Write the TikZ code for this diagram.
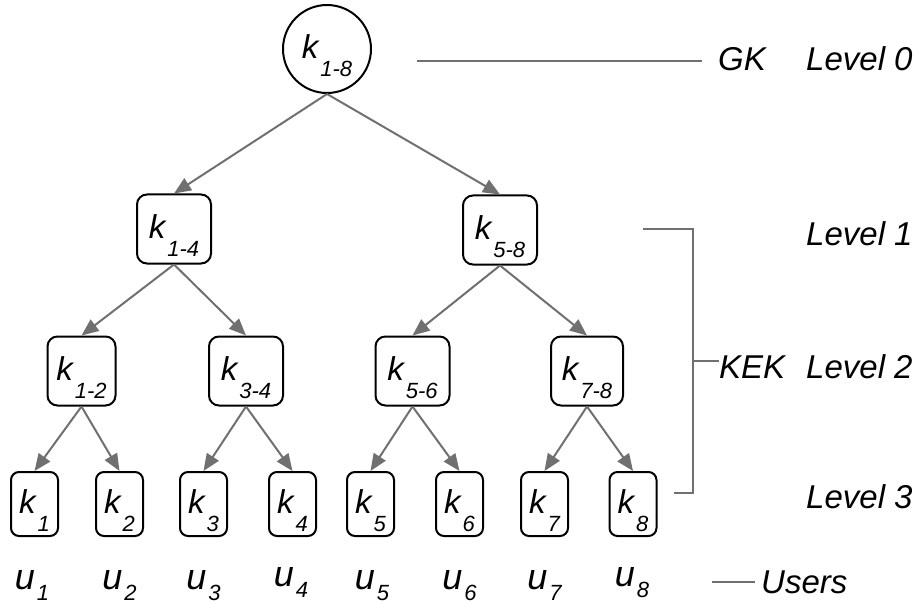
\documentclass[tikz,border=0pt]{standalone}
\usepackage{fontspec}
\setmainfont{Liberation Sans}
\usetikzlibrary{arrows.meta}

% key label: italic k with a deep subscript
\newcommand{\keylabel}[1]{\rule{0pt}{37pt}k\kern2pt\raisebox{-18pt}{\fontsize{22}{22}\selectfont #1}}
% user label: italic u with its index
\newcommand{\userlabel}[1]{u\kern2pt\raisebox{-11pt}{\fontsize{22}{22}\selectfont #1}}

\definecolor{linegray}{HTML}{707070}
\tikzset{
  keynode/.style={draw=black, line width=2pt, inner sep=0pt,
    font=\fontsize{33}{33}\selectfont\itshape},
  rootkey/.style={keynode, circle, minimum size=88pt},
  midkey/.style={keynode, rectangle, rounded corners=10pt,
    minimum width=74pt, minimum height=69pt},
  leafkey/.style={keynode, rectangle, rounded corners=8pt,
    minimum width=47pt, minimum height=64pt},
  conn/.style={draw=linegray, line width=2pt,
    -{Triangle[length=17pt,width=14pt]}},
  gline/.style={draw=linegray, line width=2pt},
  tag/.style={inner sep=0pt, anchor=base west,
    font=\fontsize{33}{33}\selectfont\itshape},
  user/.style={inner sep=0pt, anchor=base,
    font=\fontsize{36}{36}\selectfont\itshape},
}

\begin{document}
\begin{tikzpicture}[x=1pt, y=-1pt]
  \useasboundingbox (0,0) rectangle (921,604);

  % key tree
  \node[rootkey] (k18) at (327,49) {\keylabel{1-8}};

  \node[midkey] (k14) at (174,229) {\keylabel{1-4}};
  \node[midkey] (k58) at (500,230) {\keylabel{5-8}};

  \node[midkey, minimum width=68pt] (k12) at (81.5,371) {\keylabel{1-2}};
  \node[midkey] (k34) at (246,371) {\keylabel{3-4}};
  \node[midkey] (k56) at (412.5,371) {\keylabel{5-6}};
  \node[midkey, minimum width=72pt] (k78) at (587,371) {\keylabel{7-8}};

  \node[leafkey] (k1) at (34.5,504) {\keylabel{1}};
  \node[leafkey] (k2) at (119.5,504) {\keylabel{2}};
  \node[leafkey] (k3) at (203.5,504) {\keylabel{3}};
  \node[leafkey] (k4) at (292.5,504) {\keylabel{4}};
  \node[leafkey] (k5) at (370.5,504) {\keylabel{5}};
  \node[leafkey] (k6) at (459.5,504) {\keylabel{6}};
  \node[leafkey] (k7) at (544.5,504) {\keylabel{7}};
  \node[leafkey] (k8) at (633,504) {\keylabel{8}};

  \draw[conn] (k18.south) -- (k14.north);
  \draw[conn] (k18.south) -- (k58.north);
  \draw[conn] (k14.south) -- (k12.north);
  \draw[conn] (k14.south) -- (k34.north);
  \draw[conn] (k58.south) -- (k56.north);
  \draw[conn] (k58.south) -- (k78.north);
  \draw[conn] (k12.south) -- (k1.north);
  \draw[conn] (k12.south) -- (k2.north);
  \draw[conn] (k34.south) -- (k3.north);
  \draw[conn] (k34.south) -- (k4.north);
  \draw[conn] (k56.south) -- (k5.north);
  \draw[conn] (k56.south) -- (k6.north);
  \draw[conn] (k78.south) -- (k7.north);
  \draw[conn] (k78.south) -- (k8.north);

  % users
  \node[user] (u1) at (32,589) {\userlabel{1}};
  \node[user] (u2) at (119.5,589) {\userlabel{2}};
  \node[user] (u3) at (203.5,589) {\userlabel{3}};
  \node[user] (u4) at (291,586) {\userlabel{4}};
  \node[user] (u5) at (372,589) {\userlabel{5}};
  \node[user] (u6) at (459.5,589) {\userlabel{6}};
  \node[user] (u7) at (544.5,589) {\userlabel{7}};
  \node[user] (u8) at (632,586) {\userlabel{8}};

  % level captions
  \node[tag] (lv0) at (806,71) {Level 0};
  \node[tag] (lv1) at (806,245) {Level 1};
  \node[tag] (lv2) at (806,378) {Level 2};
  \node[tag] (lv3) at (806,508) {Level 3};

  % group key
  \node[tag] (gk) at (718,71) {GK};
  \coordinate (gkstart) at (417,61);
  \coordinate (gkend) at (702,61);
  \draw[gline] (gkstart) -- (gkend);

  % key-encryption-key bracket
  \node[tag] (kek) at (719,378) {KEK};
  \coordinate (brtop) at (643,229);
  \coordinate (brcorner) at (693,229);
  \coordinate (brbottom) at (693,493);
  \coordinate (brend) at (674,493);
  \coordinate (brmid) at (693,361);
  \draw[gline] (brtop) -- (brcorner) -- (brbottom) -- (brend);
  \draw[gline] (brmid) -- (brmid -| kek.west);

  % users caption
  \node[tag] (users) at (761,593) {Users};
  \coordinate (ustart) at (712,582);
  \coordinate (uend) at (755,582);
  \draw[gline] (ustart) -- (uend);
\end{tikzpicture}
\end{document}
